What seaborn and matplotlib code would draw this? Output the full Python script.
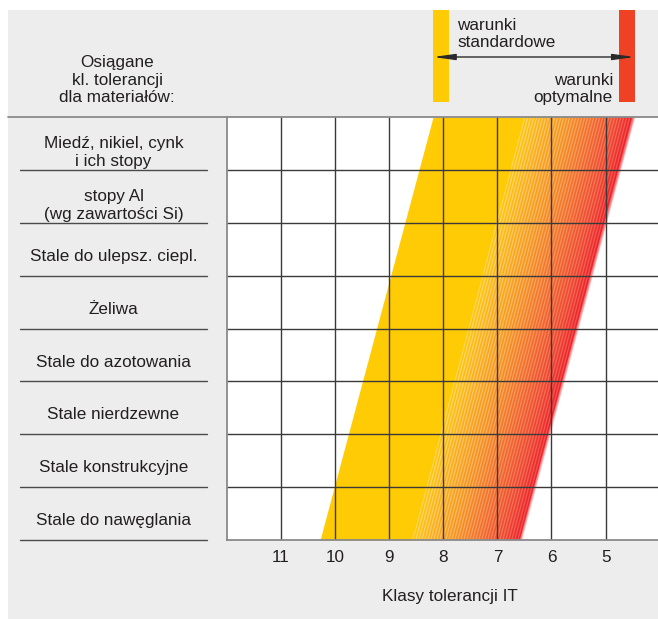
import numpy as np
import matplotlib
matplotlib.use("Agg")
import matplotlib.pyplot as plt
import matplotlib.transforms as mtransforms
from matplotlib.colors import LinearSegmentedColormap
from matplotlib.patches import Rectangle
from matplotlib.lines import Line2D
import seaborn as sns

# ---- data -------------------------------------------------------------
materials = [
    "Miedź, nikiel, cynk\ni ich stopy",
    "stopy Al\n(wg zawartości Si)",
    "Stale do ulepsz. ciepl.",
    "Żeliwa",
    "Stale do azotowania",
    "Stale nierdzewne",
    "Stale konstrukcyjne",
    "Stale do nawęglania",
]
it_classes = [11, 10, 9, 8, 7, 6, 5]
it_labels = ["11", "10", "9", "8", "7", "6", "5"]

# IT class at the top and at the bottom of the material table
row_edges = [0, 8]
standard_edge = [8.19, 10.28]    # standard conditions (worst reachable class)
transition_edge = [6.49, 8.56]   # where the optimal-conditions range begins
optimal_edge = [4.46, 6.55]      # optimal conditions (best reachable class)

YELLOW = "#FFCB05"
RED_BAR = "#EF4123"
BG = "#EDEDED"
GRID = "#3a3a3a"
FS = 12.3
LS = 1.2

# ---- figure -----------------------------------------------------------
sns.set_theme(style="white")
plt.rcParams["font.family"] = ["Liberation Sans", "DejaVu Sans"]
plt.rcParams["text.color"] = "#231f20"

W, H = 658, 619
fig = plt.figure(figsize=(W / 100, H / 100), dpi=100, facecolor="white")


def fx(px):
    return px / W


def fy(py):
    return 1 - py / H


fig.patches.append(Rectangle((fx(8), 0), 1 - fx(8), fy(10), transform=fig.transFigure,
                             facecolor=BG, edgecolor="none", zorder=-5))

ax = fig.add_axes([fx(227), fy(540), fx(658) - fx(227), fy(117) - fy(540)])
ax.set_facecolor("white")
px_per_class = (658 - 227) / (12 - 4.03)

# standard-conditions band (solid yellow)
ax.fill_betweenx(row_edges, standard_edge,
                 [transition_edge[0] - 0.05, transition_edge[1] - 0.05],
                 color=YELLOW, lw=0, zorder=1)

# optimal-conditions band: yellow -> orange -> red with fine white stripes
cmap = LinearSegmentedColormap.from_list(
    "opt", [(0.0, "#FFC40C"), (0.15, "#FBB017"), (0.38, "#F6921E"),
            (0.62, "#F36B28"), (0.85, "#EF432D"), (1.0, "#ED1C24")])
x_hi = max(transition_edge) + 0.05
x_lo = min(optimal_edge) - 0.08
nx = int((x_hi - x_lo) * px_per_class * 4)
ny = 423 * 4
xs = np.linspace(x_hi, x_lo, nx)
ys = np.linspace(0, 8, ny)
X, Y = np.meshgrid(xs, ys)
frac = (Y - row_edges[0]) / (row_edges[1] - row_edges[0])
left = transition_edge[0] + (transition_edge[1] - transition_edge[0]) * frac
right = optimal_edge[0] + (optimal_edge[1] - optimal_edge[0]) * frac
t = (left - X) / (left - right)
tc = np.clip(t, 0, 1)
rgb = cmap(tc)[..., :3]
d_px = (left - X) * px_per_class
stripe = (0.5 + 0.5 * np.cos(2 * np.pi * d_px / 3.0)) ** 3
mix = stripe * (0.55 - 0.25 * tc)
rgb = rgb * (1 - mix[..., None]) + mix[..., None]
alpha = np.clip(t / 0.01 + 1, 0, 1) * np.clip((1.01 - t) / 0.03, 0, 1)
rgba = np.dstack([rgb, alpha])
ax.imshow(rgba, extent=(x_hi, x_lo, 8, 0), origin="upper", aspect="auto",
          interpolation="antialiased", zorder=2)
ax.set_xlim(12, 4.03)
ax.set_ylim(8, 0)

# grid
for v in it_classes:
    ax.axvline(v, color=GRID, lw=1.0, zorder=3)
for r in range(1, len(materials)):
    ax.axhline(r, color=GRID, lw=1.0, zorder=3)

sns.despine(ax=ax, top=True, right=True, left=False, bottom=False)
for s in ("left", "bottom"):
    ax.spines[s].set_color("#8a8a8a")
    ax.spines[s].set_linewidth(1.3)
    ax.spines[s].set_zorder(4)

ax.set_xticks(it_classes)
ax.set_xticklabels(it_labels, fontsize=FS)
ax.set_yticks([])
ax.tick_params(axis="x", length=0, pad=7, colors="#231f20")

# header separator line
fig.add_artist(Line2D([fx(8), 1], [fy(117), fy(117)], color="#8a8a8a", lw=1.3,
                      transform=fig.transFigure))

# material table on the left
blend_left = mtransforms.blended_transform_factory(fig.transFigure, ax.transData)
for r in range(1, len(materials) + 1):
    ax.add_line(Line2D([fx(20), fx(207)], [r, r], color="#4a4a4a", lw=1.0,
                       transform=blend_left, clip_on=False))
for i, name in enumerate(materials):
    off = 0.17 if "\n" in name else 0.135
    ax.text(fx(113.5), i + 0.5 + off, name, transform=blend_left, ha="center",
            va="center", fontsize=FS, linespacing=LS, clip_on=False)

fig.text(fx(117), fy(80), "Osiągane\nkl. tolerancji\ndla materiałów:", ha="center",
         va="center", fontsize=FS, linespacing=LS)

# header markers for standard / optimal conditions
blend_top = mtransforms.blended_transform_factory(ax.transData, fig.transFigure)
ax.add_patch(Rectangle((standard_edge[0], fy(102)), -0.3, fy(10) - fy(102),
                       transform=blend_top, facecolor=YELLOW, edgecolor="none",
                       clip_on=False))
ax.add_patch(Rectangle((optimal_edge[0] + 0.3, fy(102)), -0.3, fy(10) - fy(102),
                       transform=blend_top, facecolor=RED_BAR, edgecolor="none",
                       clip_on=False))
ax.annotate("", xy=(optimal_edge[0], fy(57)), xytext=(standard_edge[0], fy(57)),
            xycoords=blend_top, textcoords=blend_top, annotation_clip=False,
            arrowprops=dict(arrowstyle="<|-|>,head_length=1.3,head_width=0.18",
                            mutation_scale=10, color="#2a2a2a", lw=1.0,
                            shrinkA=0, shrinkB=0))
fig.text(fx(457), fy(34), "warunki\nstandardowe", ha="left", va="center",
         fontsize=FS, linespacing=LS)
fig.text(fx(613), fy(89), "warunki\noptymalne", ha="right", va="center",
         fontsize=FS, linespacing=LS, multialignment="right")

fig.text(fx(450), fy(597), "Klasy tolerancji IT", ha="center", va="center", fontsize=FS)

fig.savefig("out.png", dpi=100, facecolor="white")
